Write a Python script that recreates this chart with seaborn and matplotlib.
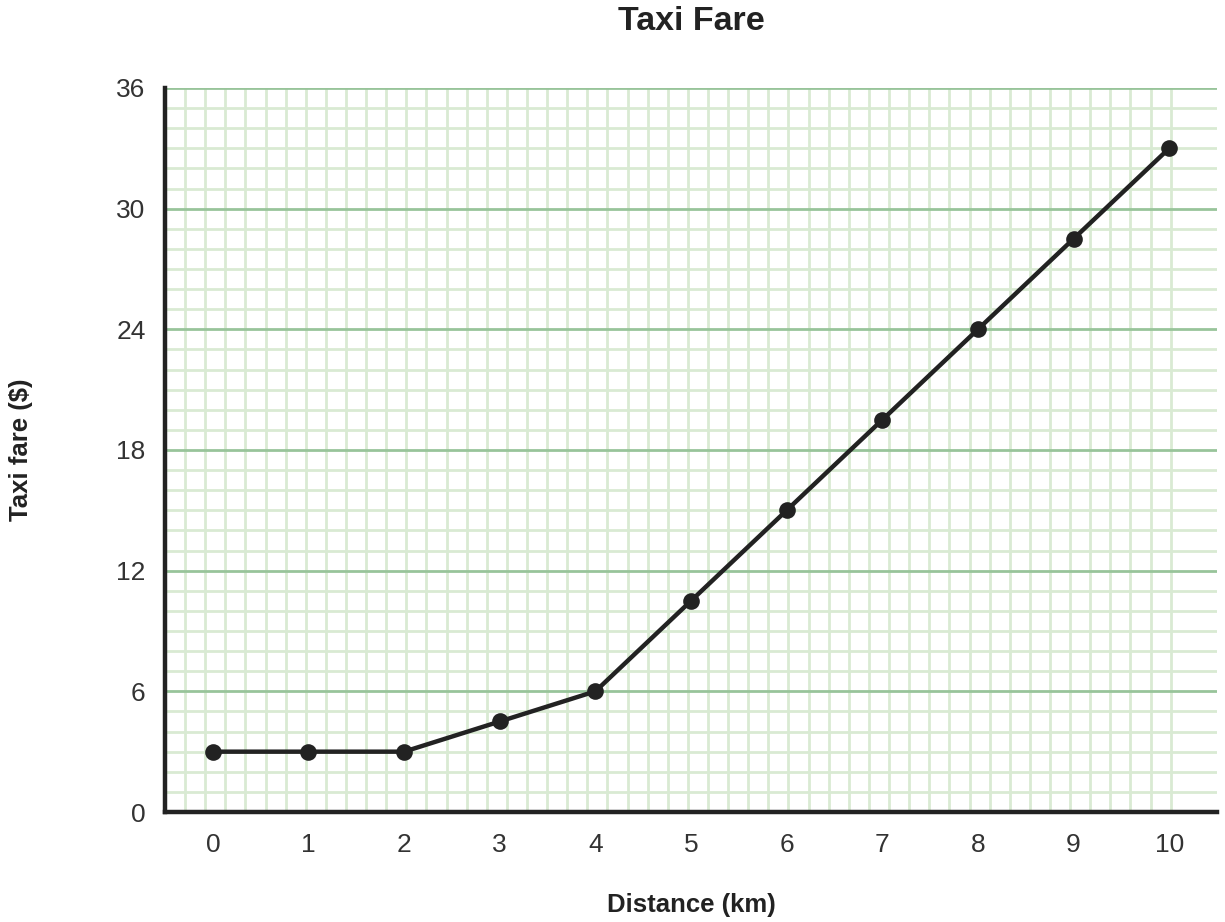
import numpy as np
import pandas as pd
import matplotlib
matplotlib.use("Agg")
import matplotlib.pyplot as plt
import seaborn as sns

# data
distance_km = [0, 1, 2, 3, 4, 5, 6, 7, 8, 9, 10]
fare_usd = [3, 3, 3, 4.5, 6, 10.5, 15, 19.5, 24, 28.5, 33]
y_ticks = [0, 6, 12, 18, 24, 30, 36]

df = pd.DataFrame({"distance": distance_km, "fare": fare_usd})

sns.set_style("white")
plt.rcParams["font.family"] = ["Liberation Sans", "DejaVu Sans"]

fig = plt.figure(figsize=(12.25, 9.22), dpi=100)
ax = fig.add_axes([0.1347, 0.1193, 0.8588, 0.7853])

xmin, xmax = -0.5, 10.5
ymin, ymax = 0, 36
ax.set_xlim(xmin, xmax)
ax.set_ylim(ymin, ymax)

# graph-paper background: square cells, one y unit high
minor_col = "#d9ead3"
major_col = "#98c49a"
for y in range(1, 36):
    if y % 6:
        ax.axhline(y, color=minor_col, lw=2, zorder=0)
# x step so cells come out square in pixels
bbox = ax.get_window_extent()
px_per_y = bbox.height / (ymax - ymin)
px_per_x = bbox.width / (xmax - xmin)
step = px_per_y / px_per_x
xv = xmin + step
while xv < xmax - 0.3:
    ax.axvline(xv, color=minor_col, lw=2, zorder=0)
    xv += step
for y in y_ticks[1:]:
    ax.axhline(y, color=major_col, lw=2, zorder=1)

sns.lineplot(data=df, x="distance", y="fare", color="#222222", lw=3.2,
             marker="o", markersize=12, markeredgewidth=0, ax=ax, zorder=3)

ax.set_xticks(distance_km)
ax.set_yticks(y_ticks)
ax.tick_params(axis="both", length=0, labelsize=19, colors="#333333")
ax.tick_params(axis="x", pad=15)
ax.tick_params(axis="y", pad=14)

for s in ["top", "right"]:
    ax.spines[s].set_visible(False)
for s in ["left", "bottom"]:
    ax.spines[s].set_color("#222222")
    ax.spines[s].set_linewidth(3.2)

ax.set_xlabel("Distance (km)", fontsize=18.5, fontweight="bold", color="#222222", labelpad=26)
ax.set_ylabel("Taxi fare ($)", fontsize=18.5, fontweight="bold", color="#222222", labelpad=60)
fig.text(0.5647, 1 - 21 / 922, "Taxi Fare", fontsize=24.5, fontweight="bold",
         color="#222222", ha="center", va="center")

fig.savefig("out.png", dpi=100)
